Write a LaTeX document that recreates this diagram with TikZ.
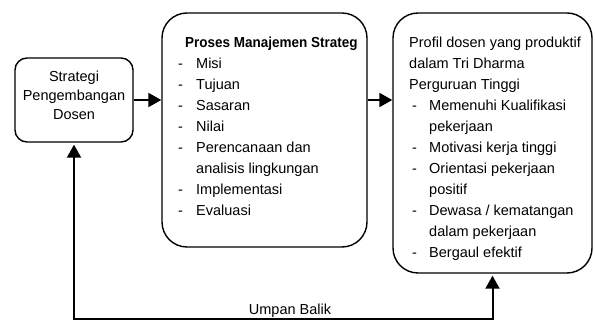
\documentclass[tikz,border=0pt]{standalone}
\usepackage{fontspec}
\setmainfont{Liberation Sans}
\newfontfamily\titlefont[FakeStretch=0.93]{Liberation Sans}
\usepackage{tikz}
\usetikzlibrary{arrows.meta}
\usetikzlibrary{positioning}
\tikzset{box/.style = {draw, line width = 1.4pt, inner sep = 0}}
\tikzset{txt/.style = {inner sep = 0, align = left, font = \fontsize{14.5}{21}\selectfont}}
\tikzset{fwd/.style = {line width = 2pt, -{Triangle[length=13pt, width=14pt]}}}
\newcommand{\dashitem}[2][18pt]{\makebox[#1][l]{-}#2}

\begin{document}
\begin{tikzpicture}[x = 1pt, y = -1pt]
      \useasboundingbox (0, 0) rectangle (595, 320);

      \node [box, rounded corners = 12pt, minimum width = 118, minimum height = 84] (sbox) at (74, 100) {};
      \node [box, rounded corners = 25pt, minimum width = 205, minimum height = 234] (mbox) at (264.5, 130) {};
      \node [box, rounded corners = 25pt, minimum width = 199, minimum height = 260] (pbox) at (492.5, 143) {};

      \node [txt, align = center, font = \fontsize{14.5}{19}\selectfont] (stext) at (74, 95)
        {Strategi\\Pengembangan\\Dosen};

      \node [txt, anchor = north west] (mtext) at (178, 36.5)
        {\hspace*{7pt}{\titlefont\bfseries Proses Manajemen Strateg}\\
         \dashitem{Misi}\\
         \dashitem{Tujuan}\\
         \dashitem{Sasaran}\\
         \dashitem{Nilai}\\
         \dashitem{Perencanaan dan}\\
         \hspace*{18pt}analisis lingkungan\\
         \dashitem{Implementasi}\\
         \dashitem{Evaluasi}};

      \node [txt, anchor = north west] (ptext) at (409, 36.3)
        {Profil dosen yang produktif\\
         dalam Tri Dharma\\
         Perguruan Tinggi\\
         \hspace*{3pt}\dashitem[17pt]{Memenuhi Kualifikasi}\\
         \hspace*{20pt}pekerjaan\\
         \hspace*{3pt}\dashitem[17pt]{Motivasi kerja tinggi}\\
         \hspace*{3pt}\dashitem[17pt]{Orientasi pekerjaan}\\
         \hspace*{20pt}positif\\
         \hspace*{3pt}\dashitem[17pt]{Dewasa / kematangan}\\
         \hspace*{20pt}dalam pekerjaan\\
         \hspace*{3pt}\dashitem[17pt]{Bergaul efektif}};

      \draw [fwd] (sbox.east) -- (sbox.east -| mbox.west);
      \draw [fwd] (sbox.east -| mbox.east) -- (sbox.east -| pbox.west);

      % umpan balik
      \coordinate (fb) at (0, 319);
      \draw [line width = 2pt, {Triangle[length=13pt, width=14pt]}-{Triangle[length=13pt, width=14pt]}]
        ([yshift = -2pt] pbox.south) -- (pbox.south |- fb) -- (sbox.south |- fb) -- ([yshift = -2pt] sbox.south);
      \node [txt] (fblabel) at (290, 311) {Umpan Balik};
\end{tikzpicture}
\end{document}
